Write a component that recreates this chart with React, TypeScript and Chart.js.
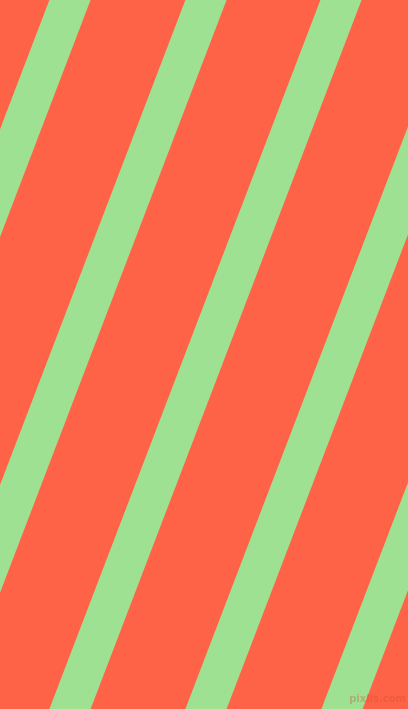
import { useRef, useEffect } from "react";
import { Chart, registerables } from "chart.js";

Chart.register(...registerables);

// Each stripe is a line from its centre at the top edge to its centre at the bottom edge
const stripeNames = ["s1", "s2", "s3", "s4", "s5"];
const stripeTopX = [70, 206, 341, 477, 613];
const stripeBottomX = [-201, -65, 70, 206, 342];
const topY = 0;
const bottomY = 709;

const watermark = "pixlis.com";

const backgroundPlugin = {
  id: "stripeBackground",
  beforeDraw: (chart: Chart) => {
    const { ctx, width, height } = chart;
    ctx.save();
    ctx.fillStyle = "#FF6347";
    ctx.fillRect(0, 0, width, height);
    ctx.restore();
  },
  afterDraw: (chart: Chart) => {
    const { ctx, width, height } = chart;
    ctx.save();
    ctx.fillStyle = "rgba(200, 80, 50, 0.35)";
    ctx.font = "bold 10px 'DejaVu Sans'";
    ctx.textAlign = "right";
    ctx.textBaseline = "alphabetic";
    ctx.fillText(watermark, width - 2, height - 7);
    ctx.restore();
  },
};

export default function App() {
  const chartRef = useRef<HTMLCanvasElement | null>(null);
  const chartInstance = useRef<Chart | null>(null);

  useEffect(() => {
    document.body.style.margin = "0";
    if (!chartRef.current) return;
    if (chartInstance.current) chartInstance.current.destroy();
    const ctx = chartRef.current.getContext("2d");
    if (!ctx) return;

    chartInstance.current = new Chart(ctx, {
      type: "scatter",
      data: {
        datasets: stripeNames.map((name, i) => ({
          label: name,
          data: [
            { x: stripeTopX[i], y: topY },
            { x: stripeBottomX[i], y: bottomY },
          ],
          showLine: true,
          borderColor: "#9FE192",
          borderWidth: 38.5,
          borderCapStyle: "square" as const,
          pointRadius: 0,
          pointHoverRadius: 0,
          fill: false,
        })),
      },
      options: {
        responsive: false,
        animation: false,
        events: [],
        layout: { padding: 0 },
        plugins: {
          legend: { display: false },
          tooltip: { enabled: false },
        },
        scales: {
          x: { type: "linear", min: 0, max: 408, display: false },
          y: { type: "linear", min: 0, max: 709, reverse: true, display: false },
        },
      },
      plugins: [backgroundPlugin],
    });

    return () => {
      if (chartInstance.current) {
        chartInstance.current.destroy();
        chartInstance.current = null;
      }
    };
  }, []);

  return (
    <div style={{ width: 408, height: 709 }}>
      <canvas ref={chartRef} width={408} height={709} />
    </div>
  );
}
